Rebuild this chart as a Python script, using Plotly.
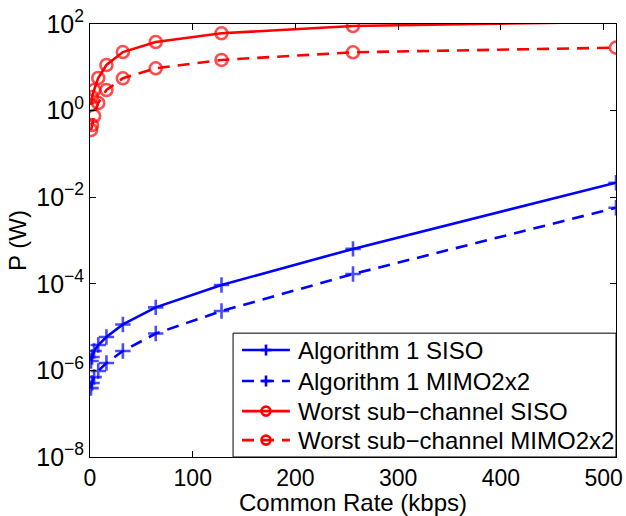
import plotly.graph_objects as go

rate = [1, 2, 4, 8, 16, 32, 64, 128, 256, 512]
alg_siso = [1.65e-6, 2.04e-6, 2.8e-6, 3.86e-6, 5.9e-6, 1.15e-5, 2.86e-5, 9.4e-5, 6.4e-4, 2.16e-2]
alg_mimo = [3.9e-7, 5.1e-7, 7.0e-7, 9.7e-7, 1.48e-6, 2.8e-6, 7.1e-6, 2.35e-5, 1.68e-4, 5.7e-3]
worst_siso = [1.35, 2.06, 2.99, 5.66, 11.3, 22.5, 38.4, 61, 90, 112]
worst_mimo = [0.356, 0.465, 0.75, 1.5, 2.99, 5.57, 9.48, 14.8, 22.2, 28.4]

names = ["Algorithm 1 SISO", "Algorithm 1 MIMO2x2",
         "Worst sub\u2212channel SISO", "Worst sub\u2212channel MIMO2x2"]
ytick_vals = [1e-8, 1e-6, 1e-4, 1e-2, 1e0, 1e2]
ytick_text = ["10<sup>\u22128</sup>", "10<sup>\u22126</sup>", "10<sup>\u22124</sup>",
              "10<sup>\u22122</sup>", "10<sup>0</sup>", "10<sup>2</sup>"]
xtick_vals = [0, 100, 200, 300, 400, 500]

YMAX = 100.0
BLUE = "#0000ff"
RED = "#ff0000"
DASH = "12px,8px"
LW = 2.6

def sizes(vals, s):
    # emulate clipping of markers lying outside the axes
    return [s if v <= YMAX else 0 for v in vals]

fig = go.Figure()
specs = [
    (alg_siso, names[0], BLUE, "solid", "cross"),
    (alg_mimo, names[1], BLUE, DASH, "cross"),
    (worst_siso, names[2], RED, "solid", "circle"),
    (worst_mimo, names[3], RED, DASH, "circle"),
]
for vals, nm, col, dash, kind in specs:
    sym = "cross-thin-open" if kind == "cross" else "circle-open"
    ms = 11 if kind == "cross" else 12
    fig.add_trace(go.Scatter(
        x=rate, y=vals, name=nm, mode="lines+markers", showlegend=False,
        line=dict(color=col, width=LW, dash=dash),
        marker=dict(symbol=sym, size=sizes(vals, ms), color=col,
                    line=dict(color=col, width=LW)),
    ))

# ---- MATLAB-style legend box (lower right, inside axes) ----
shapes = []
annotations = []
box_left, box_top = 0.272, 0.286
shapes.append(dict(type="rect", xref="x domain", yref="y domain",
                   x0=box_left, x1=1.0, y0=0.0, y1=box_top,
                   line=dict(color="black", width=1), fillcolor="white", layer="above"))
row_y = [0.247, 0.1755, 0.106, 0.039]
sx0, sx1, smid, tx = 0.289, 0.380, 0.3346, 0.3916
for (vals, nm, col, dash, kind), ry in zip(specs, row_y):
    shapes.append(dict(type="line", xref="x domain", yref="y domain",
                       x0=sx0, x1=sx1, y0=ry, y1=ry,
                       line=dict(color=col, width=LW, dash=dash), layer="above"))
    if kind == "circle":
        shapes.append(dict(type="circle", xref="x domain", yref="y domain",
                           xsizemode="pixel", ysizemode="pixel",
                           xanchor=smid, yanchor=ry, x0=-4.5, x1=4.5, y0=-4.5, y1=4.5,
                           line=dict(color=col, width=LW), fillcolor="rgba(0,0,0,0)",
                           layer="above"))
    else:
        shapes.append(dict(type="line", xref="x domain", yref="y domain",
                           xsizemode="pixel", ysizemode="pixel",
                           xanchor=smid, yanchor=ry, x0=-5.5, x1=5.5, y0=0, y1=0,
                           line=dict(color=col, width=LW), layer="above"))
        shapes.append(dict(type="line", xref="x domain", yref="y domain",
                           xsizemode="pixel", ysizemode="pixel",
                           xanchor=smid, yanchor=ry, x0=0, x1=0, y0=-5.5, y1=5.5,
                           line=dict(color=col, width=LW), layer="above"))
    annotations.append(dict(text=nm, xref="x domain", yref="y domain",
                            x=tx, y=ry, xanchor="left", yanchor="middle",
                            showarrow=False, font=dict(size=24, color="black")))

font = "Liberation Sans, Arial, Helvetica, sans-serif"
fig.update_layout(
    width=626, height=516,
    margin=dict(l=90, r=10, t=24, b=59),
    paper_bgcolor="white", plot_bgcolor="white",
    font=dict(family=font, size=24, color="black"),
    showlegend=False,
    shapes=shapes, annotations=annotations,
    xaxis=dict(range=[0, 512], tickvals=xtick_vals, showgrid=False, zeroline=False,
               automargin=False,
               showline=True, linecolor="black", linewidth=1, mirror="ticks",
               ticks="inside", ticklen=6, tickcolor="black",
               title=dict(text="Common Rate (kbps)", standoff=3, font=dict(size=24)),
               tickfont=dict(size=23)),
    yaxis=dict(type="log", range=[-8, 2], tickvals=ytick_vals, ticktext=ytick_text,
               showgrid=False, zeroline=False, automargin=False,
               showline=True, linecolor="black", linewidth=1, mirror="ticks",
               ticks="inside", ticklen=6, tickcolor="black",
               title=dict(text="P (W)", standoff=2, font=dict(size=24)),
               tickfont=dict(size=25)),
)
fig.write_html("out.html", config={"displayModeBar": False},
               post_script="document.body.style.margin='0';document.body.style.overflow='hidden';")
